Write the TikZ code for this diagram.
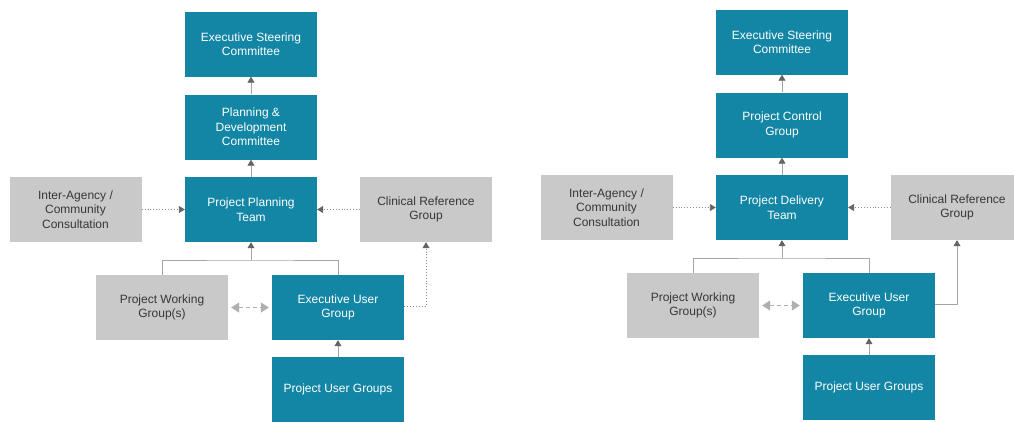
\documentclass[tikz,border=0pt]{standalone}
\usepackage{fontspec}
\setmainfont{Liberation Sans}
\usetikzlibrary{arrows.meta}

\definecolor{boxteal}{RGB}{18,134,164}
\definecolor{boxgrey}{RGB}{201,201,201}
\definecolor{textgrey}{RGB}{55,55,55}
\definecolor{tipgrey}{RGB}{100,100,100}
\definecolor{linegrey}{RGB}{165,165,165}
\definecolor{dualgrey}{RGB}{175,175,175}

\tikzset{
  box/.style={rectangle, minimum width=132pt, minimum height=65pt, inner sep=2pt,
    align=center, font=\fontsize{12}{14.5}\selectfont},
  tealbox/.style={box, fill=boxteal, text=white},
  greybox/.style={box, fill=boxgrey, text=textgrey},
  plainline/.style={draw=linegrey, line width=0.8pt},
  uparrow/.style={plainline, -{Triangle[length=6pt,width=7pt,color=tipgrey]}},
  dotlink/.style={draw=tipgrey!75, line width=0.9pt, dotted,
    -{Triangle[length=6pt,width=7pt,color=tipgrey]}},
  solidlink/.style={draw=linegrey, line width=0.6pt,
    -{Triangle[length=6pt,width=7pt,color=tipgrey]}},
  duallink/.style={draw=dualgrey, line width=1pt, dash pattern=on 4pt off 3pt,
    {Triangle[length=8pt,width=10pt,color=dualgrey]}-{Triangle[length=8pt,width=10pt,color=dualgrey]},
    shorten <=3pt, shorten >=3pt},
}

% One governance chart: #1 second box, #2 team box, #3 style of the
% link from the executive user group up to the clinical reference group
\newcommand\orgchart[3]{%
  \node[tealbox] (esc)  at (251,44)    {Executive Steering\\Committee};
  \node[tealbox] (mid)  at (251,127)   {#1};
  \node[tealbox] (team) at (251,209.5) {#2};
  \node[greybox] (iac)  at (75.5,209.5) {Inter-Agency /\\Community\\Consultation};
  \node[greybox] (crg)  at (426,209.5) {Clinical Reference\\Group};
  \node[greybox] (pwg)  at (162,307.5) {Project Working\\Group(s)};
  \node[tealbox] (eug)  at (338,307.5) {Executive User\\Group};
  \node[tealbox] (pug)  at (338,389.5) {Project User Groups};
  \coordinate (join) at (251,260);
  \draw[uparrow] (mid.north) -- (esc.south);
  \draw[uparrow] (team.north) -- (mid.south);
  \draw[plainline] (pwg.north) |- (join) -| (eug.north);
  \draw[uparrow] (join) -- (team.south);
  \draw[dotlink] (iac.east) -- (team.west);
  \draw[dotlink] (crg.west) -- (team.east);
  \draw[#3] ([yshift=1.5pt]eug.east) -| (crg.south);
  \draw[duallink] (pwg.east) -- (eug.west);
  \draw[uparrow] (pug.north) -- (eug.south);
}

\begin{document}
\begin{tikzpicture}[x=1pt, y=-1pt]
  \useasboundingbox (0,0) rectangle (1014,421);
  \clip (0,0) rectangle (1014,421);
  \fill[white] (0,0) rectangle (1014,421);

  \begin{scope}[name prefix=L-]
    \orgchart{Planning \&\\Development\\Committee}{Project Planning\\Team}{dotlink}
  \end{scope}

  \begin{scope}[name prefix=R-, shift={(531,-2)}]
    \orgchart{Project Control\\Group}{Project Delivery\\Team}{solidlink}
  \end{scope}
\end{tikzpicture}
\end{document}
